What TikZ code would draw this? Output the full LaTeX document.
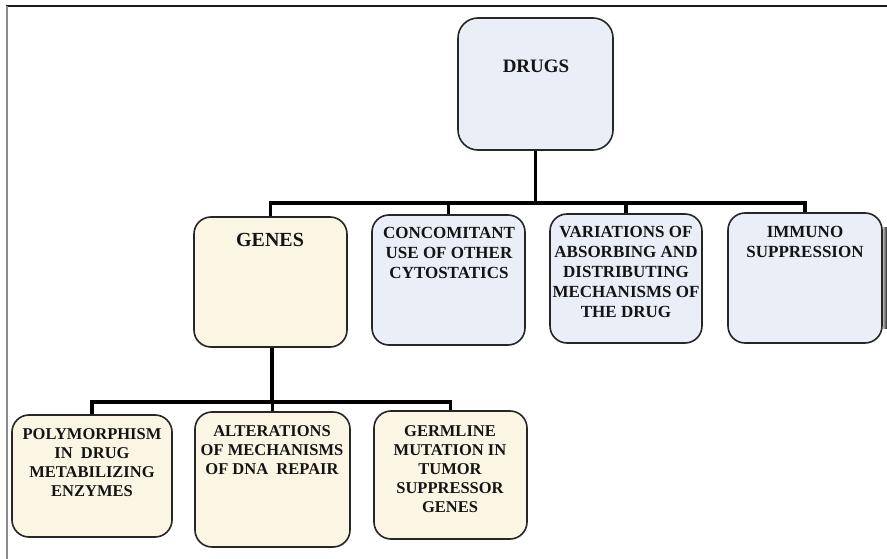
\documentclass[tikz,border=0pt]{standalone}
\usepackage{fontspec}
\setmainfont{Liberation Serif}
\definecolor{boxblue}{HTML}{EAEEF7}
\definecolor{boxcream}{HTML}{FBF5E3}
\definecolor{edge}{HTML}{262626}
\begin{document}
\begin{tikzpicture}[x=1pt,y=-1pt,
  box/.style={draw=edge, line width=1.6pt, rounded corners=17pt, inner sep=0pt},
  bluebox/.style={box, fill=boxblue},
  creambox/.style={box, fill=boxcream},
  lbl/.style={font=\bfseries, align=center, inner sep=0pt, anchor=north, text=black!92},
  upper/.style={lbl, font=\bfseries\fontsize{17}{20}\selectfont},
  lower/.style={lbl, font=\bfseries\fontsize{16.5}{19}\selectfont},
  wire/.style={line width=3.3pt, black, line join=miter}]

% page and frame
\useasboundingbox (0,0) rectangle (887,559);
\fill[white] (0,0) rectangle (887,559);
\draw[black!90, line width=1.3pt] (6,6) -- (887,6);
\draw[black!45, line width=2pt] (7,6) -- (7,559);

% boxes
\node[bluebox, minimum width=155pt, minimum height=132pt, rounded corners=20pt] (drugs) at (535.5,84) {};
\node[creambox, minimum width=153pt, minimum height=130pt] (genes) at (270.5,282) {};
\node[bluebox, minimum width=153pt, minimum height=130pt] (conc) at (448.5,280) {};
\node[bluebox, minimum width=152pt, minimum height=129pt] (var) at (626,278.5) {};
\node[bluebox, minimum width=154pt, minimum height=130pt] (imm) at (805,278) {};
\node[creambox, minimum width=160pt, minimum height=122pt] (poly) at (92,476) {};
\node[creambox, minimum width=155pt, minimum height=135pt] (alt) at (272.5,479.5) {};
\node[creambox, minimum width=153pt, minimum height=128pt] (germ) at (450.5,475) {};

% dark edge at the right border
\shade[left color=black!30, right color=black!85] (883,228) rectangle (887,328);

% labels
\node[lbl, font=\bfseries\fontsize{19}{22}\selectfont] (tdrugs) at (536,60) {DRUGS};
\node[lbl, font=\bfseries\fontsize{20}{22}\selectfont] (tgenes) at (270,233) {GENES};
\node[upper] (tconc) at (449,227) {CONCOMITANT\\USE OF OTHER\\CYTOSTATICS};
\node[upper] (tvar) at (626,226) {VARIATIONS OF\\ABSORBING AND\\DISTRIBUTING\\MECHANISMS OF\\THE DRUG};
\node[upper] (timm) at (805,226) {IMMUNO\\SUPPRESSION};
\node[lower] (tpoly) at (92,428) {POLYMORPHISM\\IN\ \ DRUG\\METABILIZING\\ENZYMES};
\node[lower] (talt) at (272,425) {ALTERATIONS\\OF MECHANISMS\\OF DNA\ \ REPAIR};
\node[lower] (tgerm) at (450,425) {GERMLINE\\MUTATION IN\\TUMOR\\SUPPRESSOR\\GENES};

% connectors
\coordinate (busA) at (0,203);
\coordinate (busB) at (0,402);
\draw[wire] (drugs.south) -- (drugs.south |- busA);
\draw[wire] (genes.north) -- (genes.north |- busA) -- (imm.north |- busA) -- (imm.north);
\draw[wire] (conc.north) -- (conc.north |- busA);
\draw[wire] (var.north) -- (var.north |- busA);
\draw[wire] ([xshift=1.5pt]genes.south) -- ([xshift=1.5pt]genes.south |- busB);
\draw[wire] (poly.north) -- (poly.north |- busB) -- (germ.north |- busB) -- (germ.north);
\draw[wire] (alt.north) -- (alt.north |- busB);
\end{tikzpicture}
\end{document}
